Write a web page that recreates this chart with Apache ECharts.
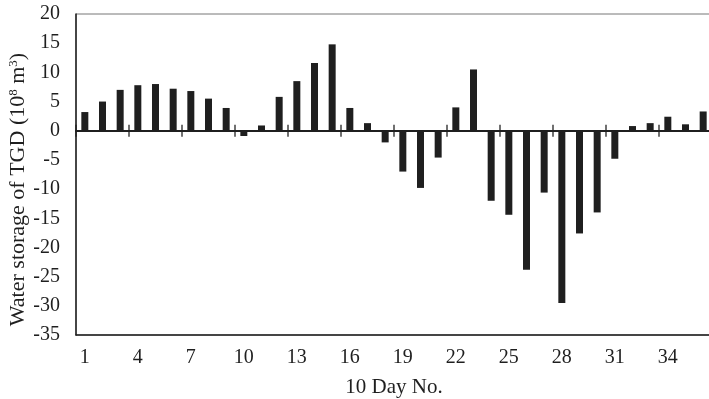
<!DOCTYPE html>
<html>
<head>
<meta charset="utf-8">
<style>
  html, body { margin: 0; padding: 0; background: #fff; }
  #chart { width: 709px; height: 399px; }
</style>
<script src="https://cdn.jsdelivr.net/npm/echarts@6/dist/echarts.min.js"></script>
</head>
<body>
<div id="chart"></div>
<script>
// 10-day periods of the year (1..36)
const periods = Array.from({ length: 36 }, (_, i) => String(i + 1));

// Change in water storage of TGD per 10-day period (10^8 m^3)
const storage = [
  3.2, 5.0, 7.0, 7.8, 8.0, 7.2, 6.8, 5.5, 3.9, -0.9,
  0.9, 5.8, 8.5, 11.6, 14.8, 3.9, 1.3, -2.0, -7.0, -9.8,
  -4.6, 4.0, 10.5, -12.0, -14.4, -23.8, -10.6, -29.5, -17.6, -14.0,
  -4.8, 0.8, 1.3, 2.4, 1.1, 3.3
];

// Value axis range
const yMin = -35;
const yMax = 20;
const yStep = 5;

// Cross ticks on the zero line sit on period boundaries, every 3 periods
const tickSpan = 3;
const zeroTicks = Array.from({ length: periods.length / tickSpan }, (_, k) => [k * tickSpan, 0]);

const serif = '"Liberation Serif", "Times New Roman", serif';
const ink = '#1f1f1f';

const chart = echarts.init(document.getElementById('chart'), null, { renderer: 'canvas' });

chart.setOption({
  animation: false,
  backgroundColor: '#fff',
  grid: {
    left: 76, top: 14, width: 636, height: 321,
    containLabel: false, outerBoundsMode: 'none',
    show: true, borderColor: '#777', borderWidth: 1, backgroundColor: 'transparent'
  },
  xAxis: [
    {
      // frame bottom with labels
      type: 'category', data: periods, position: 'bottom',
      axisLine: { onZero: false, lineStyle: { color: ink, width: 1.5 } },
      axisTick: { show: false },
      axisLabel: { interval: 2, fontFamily: serif, fontSize: 20, color: ink, margin: 13 },
      name: '10 Day No.', nameLocation: 'middle', nameGap: 42, nameMoveOverlap: false,
      nameTextStyle: { fontFamily: serif, fontSize: 21, color: ink },
      splitLine: { show: false }
    },
    {
      // zero line, measured in periods from the start of the year
      type: 'value', min: 0, max: periods.length, interval: tickSpan,
      position: 'bottom',
      axisLine: { show: true, onZero: true, lineStyle: { color: ink, width: 2 } },
      axisTick: { show: false },
      axisLabel: { show: false },
      splitLine: { show: false }
    }
  ],
  yAxis: {
    type: 'value', min: yMin, max: yMax, interval: yStep,
    axisLine: { show: true, onZero: false, lineStyle: { color: ink, width: 1.5 } },
    axisTick: { show: false },
    splitLine: { show: false },
    axisLabel: { fontFamily: serif, fontSize: 20, color: ink, margin: 16 },
    name: 'Water storage of TGD (10{sup|8} m{sup|3})',
    nameLocation: 'middle', nameRotate: 90, nameGap: 47, nameMoveOverlap: false,
    nameTextStyle: {
      fontFamily: serif, fontSize: 22, color: ink, padding: [0, 30, 0, 0],
      rich: {
        sup: { fontFamily: serif, fontSize: 13, color: ink, verticalAlign: 'top', lineHeight: 22 }
      }
    }
  },
  series: [
    {
      type: 'bar', xAxisIndex: 0, data: storage,
      barWidth: 7,
      itemStyle: { color: ink }
    },
    {
      // cross tick marks on the zero line
      type: 'scatter', xAxisIndex: 1, data: zeroTicks,
      symbol: 'rect', symbolSize: [1.6, 12],
      itemStyle: { color: ink },
      silent: true, z: 3
    }
  ]
});
</script>
</body>
</html>
